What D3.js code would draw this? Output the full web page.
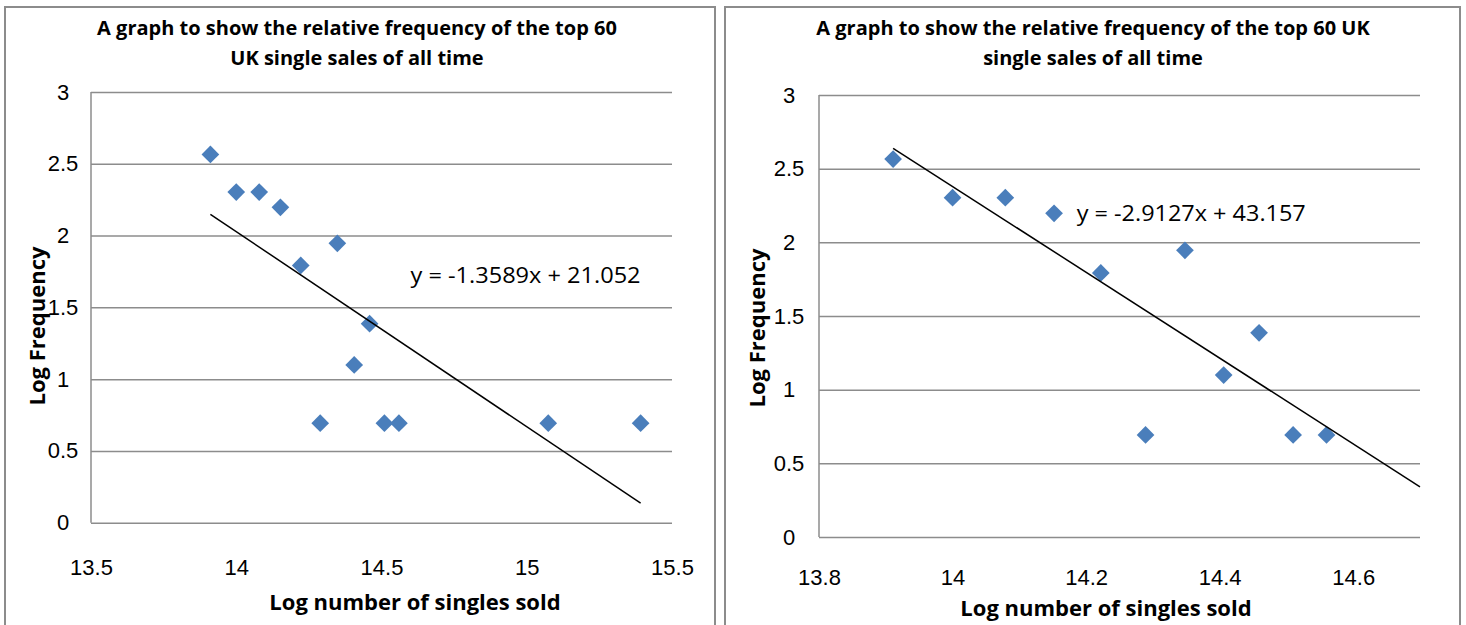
<!DOCTYPE html>
<html>
<head>
<meta charset="utf-8">
<script src="https://cdn.jsdelivr.net/npm/d3@7"></script>
<style>
  html, body { margin: 0; padding: 0; background: #fff; }
  svg { display: block; font-family: "Open Sans", "DejaVu Sans", sans-serif; }
  .grid line { stroke: #8c8c8c; stroke-width: 1.5; }
  .grid .domain { display: none; }
  .tick-labels .domain { display: none; }
  .tick-labels text { font-size: 22px; fill: #000; }
</style>
</head>
<body>
<div id="chart"></div>
<script>
// log of singles sold and log of how often each value appears
const logSold = [13.911, 14.000, 14.079, 14.152, 14.222, 14.289, 14.348, 14.406, 14.459, 14.510, 14.560, 15.074, 15.392];
const logFreq = [2.565, 2.303, 2.303, 2.197, 1.792, 0.693, 1.946, 1.099, 1.386, 0.693, 0.693, 0.693, 0.693];
// the second chart leaves out the two largest sellers
const trimmedCount = 11;

const yTicks = [0, 0.5, 1, 1.5, 2, 2.5, 3];
const leftXTicks = [13.5, 14, 14.5, 15, 15.5];
const rightXTicks = [13.8, 14, 14.2, 14.4, 14.6];

const leftTrend = { slope: -1.3589, intercept: 21.052 };
const rightTrend = { slope: -2.9127, intercept: 43.157 };

const leftTitle = ['A graph to show the relative frequency of the top 60', 'UK single sales of all time'];
const rightTitle = ['A graph to show the relative frequency of the top 60 UK', 'single sales of all time'];

(function(){
  const W = 1466, H = 625;
  const svg = d3.select('#chart').append('svg')
    .attr('width', W)
    .attr('height', H);

  const panels = [
    {
      box: [5, 7, 710, 680],
      plot: {left: 91, right: 672, top: 92, bottom: 522.7},
      xDomain: [13.5, 15.5], xTicks: leftXTicks,
      n: logSold.length, trend: leftTrend, trendEnd: 'data',
      eq: [14.60, 1.72], eqWidth: 230, title: leftTitle, titleX: 357,
      yLabelX: 63, xLabelY: 567, yTitle: [37, 326], xTitle: [415, 602]
    },
    {
      box: [725, 7, 735, 680],
      plot: {left: 819, right: 1420, top: 95, bottom: 537},
      xDomain: [13.8, 14.7], xTicks: rightXTicks,
      n: trimmedCount, trend: rightTrend, trendEnd: 'axis',
      eq: [14.186, 2.20], eqWidth: 229, title: rightTitle, titleX: 1093,
      yLabelX: 789, xLabelY: 577, yTitle: [757, 328], xTitle: [1106, 608]
    }
  ];

  panels.forEach(p => {
    const g = svg.append('g');
    const w = p.plot.right - p.plot.left;

    g.append('rect')
      .attr('x', p.box[0]).attr('y', p.box[1])
      .attr('width', p.box[2]).attr('height', p.box[3])
      .attr('fill', 'none')
      .attr('stroke', '#8c8c8c')
      .attr('stroke-width', 2);

    const x = d3.scaleLinear().domain(p.xDomain).range([p.plot.left, p.plot.right]);
    const y = d3.scaleLinear().domain([0, 3]).range([p.plot.bottom, p.plot.top]);

    // horizontal gridlines
    g.append('g')
      .attr('class', 'grid')
      .attr('transform', 'translate(' + p.plot.left + ',0)')
      .call(d3.axisLeft(y).tickValues(yTicks).tickSize(-w).tickFormat(() => null));

    // vertical axis line
    g.append('line')
      .attr('x1', p.plot.left).attr('x2', p.plot.left)
      .attr('y1', p.plot.top).attr('y2', p.plot.bottom)
      .attr('stroke', '#8c8c8c').attr('stroke-width', 1.5);

    // y tick labels
    g.append('g')
      .attr('class', 'tick-labels')
      .attr('transform', 'translate(' + p.yLabelX + ',0)')
      .call(d3.axisLeft(y).tickValues(yTicks).tickSize(0).tickPadding(0).tickFormat(d3.format('')))
      .selectAll('text')
      .attr('text-anchor', 'middle')
      .attr('x', 0);

    // x tick labels
    g.append('g')
      .attr('class', 'tick-labels')
      .attr('transform', 'translate(0,' + p.xLabelY + ')')
      .call(d3.axisBottom(x).tickValues(p.xTicks).tickSize(0).tickPadding(0).tickFormat(d3.format('')))
      .selectAll('text')
      .attr('y', 0)
      .attr('dy', '0.35em');

    // titles
    g.append('text')
      .attr('text-anchor', 'middle')
      .attr('font-weight', 'bold')
      .attr('font-size', 20)
      .selectAll('tspan')
      .data(p.title)
      .enter().append('tspan')
        .attr('x', p.titleX)
        .attr('y', (d, i) => 28 + i * 30)
        .attr('dy', '0.35em')
        .text(d => d);

    g.append('text')
      .attr('transform', 'translate(' + p.yTitle[0] + ',' + p.yTitle[1] + ') rotate(-90)')
      .attr('text-anchor', 'middle')
      .attr('dy', '0.35em')
      .attr('font-weight', 'bold')
      .attr('font-size', 22)
      .text('Log Frequency');

    g.append('text')
      .attr('x', p.xTitle[0]).attr('y', p.xTitle[1])
      .attr('text-anchor', 'middle')
      .attr('dy', '0.35em')
      .attr('font-weight', 'bold')
      .attr('font-size', 22)
      .text('Log number of singles sold');

    const pts = d3.range(p.n).map(i => ({x: logSold[i], y: logFreq[i]}));
    const x0 = d3.min(pts, d => d.x);
    const x1 = p.trendEnd === 'axis' ? p.xDomain[1] : d3.max(pts, d => d.x);
    const f = v => p.trend.slope * v + p.trend.intercept;

    // markers
    g.append('g')
      .selectAll('path')
      .data(pts)
      .enter().append('path')
        .attr('d', d3.symbol(d3.symbolDiamond2, 200)())
        .attr('transform', d => 'translate(' + x(d.x) + ',' + y(d.y) + ')')
        .attr('fill', '#4a7ebb');

    // trend line
    g.append('line')
      .attr('x1', x(x0)).attr('y1', y(f(x0)))
      .attr('x2', x(x1)).attr('y2', y(f(x1)))
      .attr('stroke', '#000')
      .attr('stroke-width', 1.5);

    const sign = p.trend.intercept >= 0 ? ' + ' : ' - ';
    g.append('text')
      .attr('x', x(p.eq[0])).attr('y', y(p.eq[1]))
      .attr('dy', '0.35em')
      .attr('font-size', 22)
      .attr('textLength', p.eqWidth)
      .attr('lengthAdjust', 'spacingAndGlyphs')
      .text('y = ' + p.trend.slope + 'x' + sign + Math.abs(p.trend.intercept));
  });
})();
</script>
</body>
</html>
